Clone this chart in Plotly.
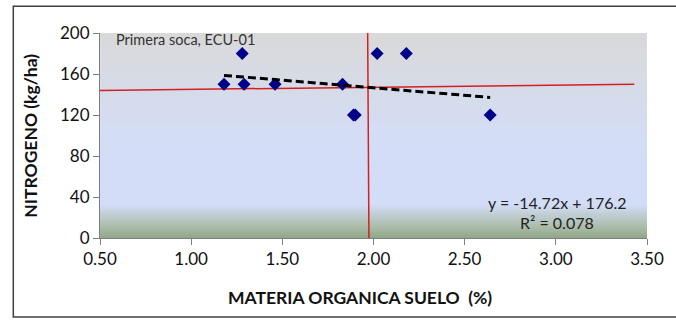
import numpy as np
import plotly.graph_objects as go

# Data
materia_organica = [1.18, 1.28, 1.29, 1.46, 1.83, 1.89, 1.90, 2.02, 2.18, 2.64]
nitrogeno = [150, 180, 150, 150, 150, 120, 120, 180, 180, 120]

# Reference lines (red)
hline_x = [0.5, 3.43]
hline_y = [144, 150]
vline_x = [1.968, 1.975]
vline_y = [200, 0]

x_ticks = [0.5, 1.0, 1.5, 2.0, 2.5, 3.0, 3.5]
y_ticks = [0, 40, 80, 120, 160, 200]

label_text = "Primera soca, ECU-01"
eq_text = "y = -14.72x + 176.2"
r2_text = "R² = 0.078"
x_title = "MATERIA ORGANICA SUELO\u00a0\u00a0(%)"
y_title = "NITROGENO (kg/ha)"

FONT = "Lato"

fig = go.Figure()

# Gradient background via heatmap
bg_y = np.linspace(0, 200, 101)
bg_x = [0.4, 3.6]
bg_z = [[v, v] for v in bg_y]
fig.add_trace(go.Heatmap(
    x=bg_x, y=bg_y, z=bg_z, zmin=0, zmax=200, zsmooth="best",
    colorscale=[[0.0, "#8ea687"], [0.06, "#acbcaa"], [0.165, "#d3ddf8"],
                [0.5, "#d4ddf6"], [0.75, "#d6dbe7"], [1.0, "#d9d9d9"]],
    showscale=False, hoverinfo="skip"))

# Red reference lines
fig.add_trace(go.Scatter(x=hline_x, y=hline_y, mode="lines",
                         line=dict(color="#d42020", width=1.5), hoverinfo="skip"))
fig.add_trace(go.Scatter(x=vline_x, y=vline_y, mode="lines",
                         line=dict(color="#d42020", width=1.5), hoverinfo="skip"))

# Data points
fig.add_trace(go.Scatter(x=materia_organica, y=nitrogeno, mode="markers",
                         marker=dict(symbol="diamond", size=10, color="#000088")))

# Linear trendline
slope, intercept = np.polyfit(materia_organica, nitrogeno, 1)
tx = np.array([min(materia_organica), max(materia_organica)])
fig.add_trace(go.Scatter(x=tx, y=slope * tx + intercept, mode="lines",
                         line=dict(color="black", width=3, dash="8px,4px"),
                         hoverinfo="skip"))

axis_common = dict(showgrid=False, zeroline=False, showline=True, linecolor="#7f7f7f",
                   linewidth=1, ticks="outside", ticklen=6, tickcolor="#7f7f7f",
                   tickfont=dict(family=FONT, size=17, color="#111111"))

fig.update_xaxes(range=[0.5, 3.5], tickvals=x_ticks, tickformat=".2f", **axis_common)
fig.update_yaxes(range=[0, 200], tickvals=y_ticks, **axis_common)

fig.add_annotation(text=label_text, xref="paper", yref="paper", x=0.026, y=0.968,
                   xanchor="left", yanchor="middle", showarrow=False,
                   font=dict(family=FONT, size=14.5, color="#333333"))
fig.add_annotation(text=eq_text, xref="paper", yref="paper", x=0.836, y=0.175,
                   xanchor="center", yanchor="middle", showarrow=False,
                   font=dict(family=FONT, size=16, color="#222222"))
fig.add_annotation(text=r2_text, xref="paper", yref="paper", x=0.836, y=0.078,
                   xanchor="center", yanchor="middle", showarrow=False,
                   font=dict(family=FONT, size=16, color="#222222"))
fig.add_annotation(text="<b>" + x_title + "</b>", xref="paper", yref="paper",
                   x=0.475, y=-0.292, xanchor="center", yanchor="middle", showarrow=False,
                   font=dict(family=FONT, size=17.5, color="#111111"))
fig.add_annotation(text="<b>" + y_title + "</b>", xref="paper", yref="paper",
                   x=-0.1275, y=0.5, xanchor="center", yanchor="middle", showarrow=False,
                   textangle=-90, font=dict(family=FONT, size=17.5, color="#111111"))

# Outer frame
fig.add_shape(type="rect", xref="paper", yref="paper", x0=-0.1585, x1=1.1,
              y0=-0.385, y1=1.130, line=dict(color="#404040", width=1.5),
              fillcolor="rgba(0,0,0,0)", layer="above")

fig.update_layout(width=676, height=320, margin=dict(l=100, r=27, t=33, b=82),
                  paper_bgcolor="white", plot_bgcolor="white", showlegend=False)

fig.write_html("out.html", config={"displayModeBar": False},
               post_script="document.body.style.margin='0px';document.body.style.overflow='hidden';")
